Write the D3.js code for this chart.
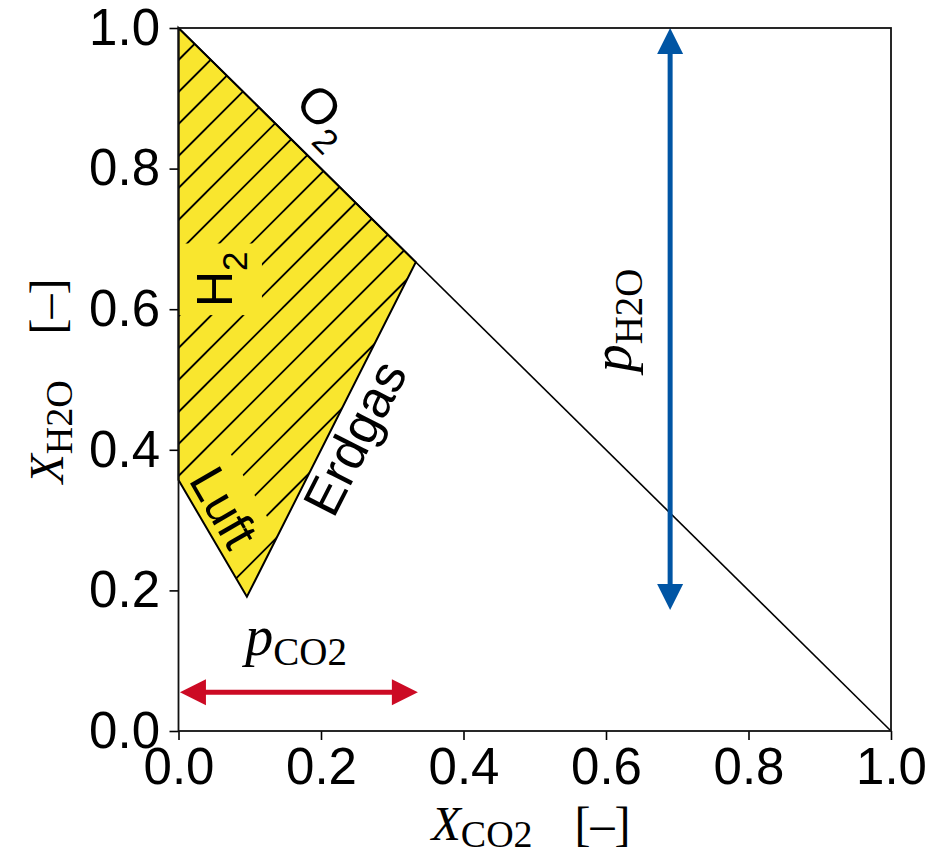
<!DOCTYPE html>
<html>
<head>
<meta charset="utf-8">
<script src="https://cdn.jsdelivr.net/npm/d3@7"></script>
<style>
  body { margin: 0; background: #fff; }
</style>
</head>
<body>
<div id="chart"></div>
<script>
// axis ticks (both axes)
const tickValues = [0, 0.2, 0.4, 0.6, 0.8, 1.0];

// operating region corners (X_CO2, X_H2O)
const regionCO2 = [0.0, 0.333, 0.096, 0.0];
const regionH2O = [1.0, 0.667, 0.191, 0.357];

// X_CO2 + X_H2O = 1 limit
const limitCO2 = [0, 1];
const limitH2O = [1, 0];

// partial pressure arrows
const pCO2Range = [0.002, 0.336];
const pCO2Level = 0.055;
const pH2ORange = [1.0, 0.172];
const pH2OLevel = 0.69;

// edge names: [main, subscript]
const edgeNames = [["O", "2"], ["H", "2"], ["Luft", ""], ["Erdgas", ""]];

const margin = {top: 28, right: 49, bottom: 125, left: 178.5};
const W = 940, H = 856;
const width = W - margin.left - margin.right;
const height = H - margin.top - margin.bottom;

const sans = "'Liberation Sans', Arial, sans-serif";
const serif = "'Liberation Serif', 'Times New Roman', serif";

const svgRoot = d3.select("#chart").append("svg")
    .attr("width", W)
    .attr("height", H);

const defs = svgRoot.append("defs");
const svg = svgRoot.append("g")
    .attr("transform", "translate(" + margin.left + "," + margin.top + ")");

const x = d3.scaleLinear().domain([0, 1]).range([0, width]);
const y = d3.scaleLinear().domain([0, 1]).range([height, 0]);

const regionPts = regionCO2.map((d, i) => [x(d), y(regionH2O[i])]);
const regionPath = "M" + regionPts.map(p => p.join(",")).join("L") + "Z";

// mask: polygon minus label boxes
const mask = defs.append("mask")
    .attr("id", "hatchMask")
    .attr("maskUnits", "userSpaceOnUse")
    .attr("x", -margin.left).attr("y", -margin.top)
    .attr("width", W).attr("height", H);
mask.append("path").attr("d", regionPath).attr("fill", "#fff");

// yellow fill
svg.append("path")
    .attr("d", regionPath)
    .attr("fill", "#f9e62e");

// hatching, 45 deg
const hatch = svg.append("g").attr("mask", "url(#hatchMask)");
const c0 = 238.5 - margin.left - margin.top, step = 32;
const xs = regionPts.map(p => p[0]);
const cMin = d3.min(regionPts, p => p[0] + p[1]);
const cMax = d3.max(regionPts, p => p[0] + p[1]);
for (let c = c0 + Math.floor((cMin - c0) / step) * step; c <= cMax; c += step) {
    const xa = d3.min(xs) - 5, xb = d3.max(xs) + 5;
    hatch.append("line")
        .attr("x1", xa).attr("y1", c - xa)
        .attr("x2", xb).attr("y2", c - xb)
        .attr("stroke", "#000")
        .attr("stroke-width", 1.9);
}

// region outline
svg.append("path")
    .attr("d", regionPath)
    .attr("fill", "none")
    .attr("stroke", "#000")
    .attr("stroke-width", 2)
    .attr("stroke-linejoin", "miter");

// limit line
svg.append("line")
    .attr("x1", x(limitCO2[0])).attr("y1", y(limitH2O[0]))
    .attr("x2", x(limitCO2[1])).attr("y2", y(limitH2O[1]))
    .attr("stroke", "#000")
    .attr("stroke-width", 1.6);

// edge labels
const labelPos = [
    {x: 0.161, y: 0.891, rot: 45, anchor: "start", dy: 0, size: 50, knock: false},
    {x: 0.075, y: 0.603, rot: -90, anchor: "start", dy: 0, size: 50, knock: true, pad: 8},
    {x: 0.064, y: 0.318, rot: 60, anchor: "middle", dy: "0.35em", size: 50, knock: true, pad: 5},
    {x: 0.253, y: 0.414, rot: -63, anchor: "middle", dy: "0.26em", size: 52, knock: false}
];

edgeNames.forEach(function (name, i) {
    const p = labelPos[i];
    const tr = "translate(" + x(p.x) + "," + y(p.y) + ") rotate(" + p.rot + ")";
    const t = svg.append("text")
        .attr("transform", tr)
        .attr("text-anchor", p.anchor)
        .style("font-family", sans)
        .style("font-size", p.size + "px");
    t.append("tspan").attr("dy", p.dy).text(name[0]);
    if (name[1]) {
        t.append("tspan")
            .attr("dy", 15)
            .style("font-size", "35px")
            .text(name[1]);
    }
    if (p.knock) {
        const bb = t.node().getBBox();
        mask.append("rect")
            .attr("transform", tr)
            .attr("x", bb.x - p.pad).attr("y", bb.y - p.pad)
            .attr("width", bb.width + 2 * p.pad)
            .attr("height", bb.height + 2 * p.pad)
            .attr("fill", "#000");
    }
});

// double arrows
function doubleArrow(p1, p2, color) {
    const dx = p2[0] - p1[0], dy = p2[1] - p1[1];
    const len = Math.sqrt(dx * dx + dy * dy);
    const ux = dx / len, uy = dy / len;
    const headL = 26, headW = 13;
    svg.append("line")
        .attr("x1", p1[0] + ux * headL * 0.9).attr("y1", p1[1] + uy * headL * 0.9)
        .attr("x2", p2[0] - ux * headL * 0.9).attr("y2", p2[1] - uy * headL * 0.9)
        .attr("stroke", color)
        .attr("stroke-width", 5);
    [[p1, 1], [p2, -1]].forEach(function (h) {
        const tip = h[0], s = h[1];
        const bx = tip[0] + s * ux * headL, by = tip[1] + s * uy * headL;
        const pts = [tip, [bx - uy * headW, by + ux * headW], [bx + uy * headW, by - ux * headW]];
        svg.append("path")
            .attr("d", "M" + pts.map(q => q.join(",")).join("L") + "Z")
            .attr("fill", color);
    });
}

doubleArrow([x(pCO2Range[0]), y(pCO2Level)], [x(pCO2Range[1]), y(pCO2Level)], "#cc0a24");
doubleArrow([x(pH2OLevel), y(pH2ORange[0])], [x(pH2OLevel), y(pH2ORange[1])], "#0055a4");

// arrow labels
const pco2 = svg.append("text")
    .attr("x", x(0.165)).attr("y", y(0.1077))
    .attr("text-anchor", "middle")
    .style("font-family", serif);
pco2.append("tspan").style("font-style", "italic").style("font-size", "56px").text("p");
pco2.append("tspan").attr("dy", 10).style("font-size", "39px").text("CO2");

const ph2o = svg.append("text")
    .attr("transform", "translate(" + x(0.635) + "," + y(0.584) + ") rotate(-90)")
    .attr("text-anchor", "middle")
    .style("font-family", serif);
ph2o.append("tspan").style("font-style", "italic").style("font-size", "56px").text("p");
ph2o.append("tspan").attr("dy", 11).style("font-size", "39px").text("H2O");

// axes
const fmt = d3.format(".1f");
const xAxis = svg.append("g")
    .attr("transform", "translate(0," + height + ")")
    .call(d3.axisBottom(x).tickValues(tickValues).tickFormat(fmt).tickSize(9).tickPadding(8));
const yAxis = svg.append("g")
    .call(d3.axisLeft(y).tickValues(tickValues).tickFormat(fmt).tickSize(9).tickPadding(9.5));

[xAxis, yAxis].forEach(function (a) {
    a.select(".domain").remove();
    a.selectAll(".tick line").attr("stroke", "#000").attr("stroke-width", 1.6);
    a.selectAll(".tick text")
        .attr("fill", "#000")
        .style("font-family", sans)
        .style("font-size", "51px");
});

// frame
svg.append("rect")
    .attr("width", width).attr("height", height)
    .attr("fill", "none")
    .attr("stroke", "#111")
    .attr("stroke-width", 1.8);

// axis titles
const xTitle = svg.append("text")
    .attr("x", 531 - margin.left)
    .attr("y", 840 - margin.top)
    .attr("text-anchor", "middle")
    .style("font-family", serif)
    .style("font-size", "48px");
xTitle.append("tspan").style("font-style", "italic").text("X");
xTitle.append("tspan").attr("dy", 7).style("font-size", "38px").text("CO2");
xTitle.append("tspan").attr("dy", -7).attr("dx", 42).text("[–]");

const yTitle = svg.append("text")
    .attr("transform", "translate(" + (63 - margin.left) + "," + (381 - margin.top) + ") rotate(-90)")
    .attr("text-anchor", "middle")
    .style("font-family", serif)
    .style("font-size", "48px");
yTitle.append("tspan").style("font-style", "italic").text("X");
yTitle.append("tspan").attr("dy", 9).style("font-size", "38px").text("H2O");
yTitle.append("tspan").attr("dy", -9).attr("dx", 46).text("[–]");
</script>
</body>
</html>
